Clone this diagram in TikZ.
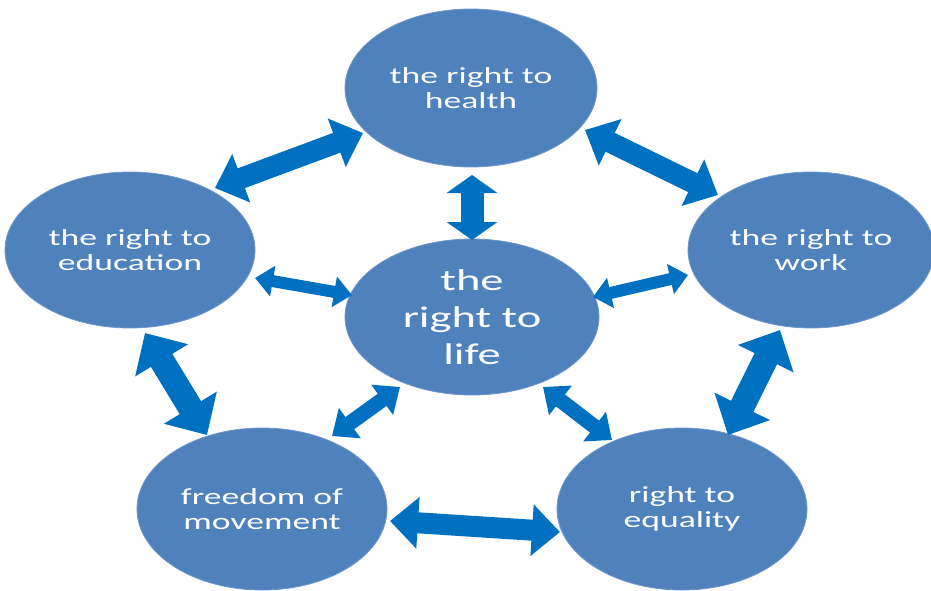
\documentclass[tikz,border=0pt]{standalone}
\usepackage{fontspec}
\setmainfont{Carlito}
\newfontfamily\lblfont[FakeStretch=1.55]{Carlito}
\usetikzlibrary{shapes.geometric,arrows.meta}
\definecolor{circfill}{HTML}{4F81BD}
\definecolor{circedge}{HTML}{6F97CB}
\definecolor{arrblue}{HTML}{0070C0}
\begin{document}
\begin{tikzpicture}[x=1pt,y=-1pt,
  rightnode/.style={ellipse, fill=circfill, draw=circedge, line width=0.8pt, inner sep=0pt,
    minimum width=250pt, minimum height=158pt, text=white, align=center,
    font=\lblfont\fontsize{23}{25}\selectfont},
  centernode/.style={rightnode, font=\lblfont\fontsize{30}{37}\selectfont},
  bigarr/.style={draw=arrblue, line width=21pt,
    {Triangle[width=50pt,length=28pt]}-{Triangle[width=50pt,length=28pt]}},
  widearr/.style={draw=arrblue, line width=25pt,
    {Triangle[width=60pt,length=32pt]}-{Triangle[width=60pt,length=32pt]}},
  vertarr/.style={draw=arrblue, line width=23pt,
    {Triangle[width=50pt,length=18pt]}-{Triangle[width=50pt,length=18pt]}},
  midarr/.style={draw=arrblue, line width=15pt,
    {Triangle[width=36pt,length=22pt]}-{Triangle[width=36pt,length=22pt]}},
  smallarr/.style={draw=arrblue, line width=12pt,
    {Triangle[width=30pt,length=18pt]}-{Triangle[width=30pt,length=18pt]}}
]
\useasboundingbox (0,0) rectangle (931,591);

% nodes
\node[rightnode, minimum width=252pt] (health) at (471,88) {the right to\\health};
\node[rightnode, minimum height=156pt] (edu) at (130,250) {the right to\\education};
\node[rightnode, minimum width=246pt, minimum height=156pt] (work) at (811,250) {the right to\\work};
\node[centernode, minimum width=254pt, minimum height=156pt] (life) at (472,317) {the\\right to\\life};
\node[rightnode, minimum height=162pt] (free) at (262,509) {freedom of\\movement};
\node[rightnode, minimum height=162pt] (equal) at (682,509) {right to\\equality};

% arrow end points
\coordinate (he-a) at (363,133);  \coordinate (he-b) at (215,188);
\coordinate (hw-a) at (585,130);  \coordinate (hw-b) at (718,195);
\coordinate (hl-a) at (472,175);  \coordinate (hl-b) at (472,240);
\coordinate (el-a) at (255,278);  \coordinate (el-b) at (352,295);
\coordinate (wl-a) at (688,275);  \coordinate (wl-b) at (593,297);
\coordinate (ef-a) at (145,333);  \coordinate (ef-b) at (207,435);
\coordinate (lf-a) at (400,387);  \coordinate (lf-b) at (332,436);
\coordinate (lq-a) at (543,387);  \coordinate (lq-b) at (612,440);
\coordinate (wq-a) at (780,330);  \coordinate (wq-b) at (728,435);
\coordinate (fq-a) at (390,521);  \coordinate (fq-b) at (560,532);

% connectors
\draw[bigarr] (he-a) -- (he-b);
\draw[bigarr] (hw-a) -- (hw-b);
\draw[vertarr] (hl-a) -- (hl-b);
\draw[smallarr] (el-a) -- (el-b);
\draw[smallarr] (wl-a) -- (wl-b);
\draw[widearr] (ef-a) -- (ef-b);
\draw[midarr] (lf-a) -- (lf-b);
\draw[midarr] (lq-a) -- (lq-b);
\draw[widearr] (wq-a) -- (wq-b);
\draw[bigarr] (fq-a) -- (fq-b);
\end{tikzpicture}
\end{document}
